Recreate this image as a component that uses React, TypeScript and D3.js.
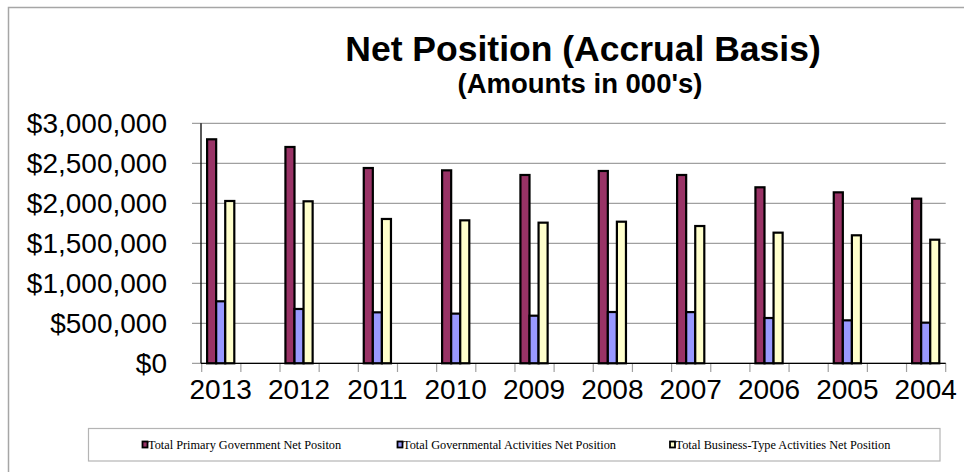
import React from "react";
import * as d3 from "d3";

const years = ["2013", "2012", "2011", "2010", "2009", "2008", "2007", "2006", "2005", "2004"];
const primary = [2800000, 2704000, 2441000, 2412000, 2354000, 2404000, 2354000, 2200000, 2137000, 2058000];
const governmental = [775000, 679000, 637000, 621000, 595000, 641000, 640000, 566000, 537000, 508000];
const business = [2029000, 2025000, 1804000, 1787000, 1758000, 1770000, 1716000, 1633000, 1600000, 1545000];
const seriesNames = [
  "Total Primary Government Net Positon",
  "Total Governmental Activities Net Position",
  "Total Business-Type Activities Net Position",
];
const seriesColors = ["#993366", "#9999FF", "#FFFFCC"];
const yTicks = [0, 500000, 1000000, 1500000, 2000000, 2500000, 3000000];

const W = 964;
const H = 472;

export default function App() {
  const series = [primary, governmental, business];
  const y = d3.scaleLinear().domain([0, 3000000]).range([363.3, 123.3]);
  const xCenter = d3.scalePoint<string>().domain(years).range([220.7, 925.7]);
  const inner = d3.scaleBand<number>().domain([0, 1, 2]).range([-13.6, 13.6]).padding(0);
  const tickX = d3.range(20).map((i) => 201.7 + i * ((945.7 - 201.7) / 19));
  const fmt = (v: number) => "$" + d3.format(",")(v);
  const legendX = [141.5, 396.5, 669];

  return (
    <div style={{ position: "fixed", left: 0, top: 0, width: W, height: H, background: "#fff" }}>
      <svg width={W} height={H} style={{ display: "block" }}>
        <rect x={0} y={0} width={W} height={H} fill="#fff" />
        {/* outer frame */}
        <path d={`M8.5,${H} V7.5 H${W}`} fill="none" stroke="#a6a6a6" strokeWidth={1.5} />
        {/* title */}
        <text x={583} y={61} textAnchor="middle" fontFamily="'Liberation Sans', Arial, sans-serif" fontWeight="bold" fontSize={35.5} fill="#000">
          Net Position (Accrual Basis)
        </text>
        <text x={580} y={93.3} textAnchor="middle" fontFamily="'Liberation Sans', Arial, sans-serif" fontWeight="bold" fontSize={27.5} fill="#000">
          (Amounts in 000's)
        </text>
        {/* gridlines */}
        {yTicks.map((t) => (
          <line key={t} x1={192} x2={945.7} y1={y(t)} y2={y(t)} stroke="#a0a0a0" strokeWidth={1.2} />
        ))}
        {/* y labels */}
        {yTicks.map((t) => (
          <text key={"l" + t} x={167} y={y(t)} dy="0.35em" textAnchor="end" fontFamily="'Liberation Sans', Arial, sans-serif" fontSize={28} fill="#000">
            {fmt(t)}
          </text>
        ))}
        {/* x ticks */}
        {tickX.map((tx, i) => (
          <line key={"t" + i} x1={tx} x2={tx} y1={363.3} y2={372} stroke="#a0a0a0" strokeWidth={1.2} />
        ))}
        {/* bars */}
        {years.map((yr, i) => (
          <g key={yr}>
            {series.map((s, k) => (
              <rect
                key={k}
                x={(xCenter(yr) as number) + (inner(k) as number)}
                y={y(s[i])}
                width={inner.bandwidth()}
                height={y(0) - y(s[i])}
                fill={seriesColors[k]}
                stroke="#000"
                strokeWidth={2.2}
              />
            ))}
          </g>
        ))}
        {/* axes */}
        <line x1={201} x2={201} y1={123.3} y2={363.3} stroke="#000" strokeWidth={1.3} />
        <line x1={201} x2={945.7} y1={363.3} y2={363.3} stroke="#000" strokeWidth={1.3} />
        {/* x labels */}
        {years.map((yr) => (
          <text key={"x" + yr} x={xCenter(yr) as number} y={398.5} textAnchor="middle" fontFamily="'Liberation Sans', Arial, sans-serif" fontSize={28} fill="#000">
            {yr}
          </text>
        ))}
        {/* legend */}
        <rect x={88.5} y={428.5} width={851.5} height={32.5} fill="#fff" stroke="#b4b4b4" strokeWidth={1.2} />
        {seriesNames.map((n, k) => (
          <g key={n}>
            <rect x={legendX[k] + 1} y={441.5} width={5} height={6} fill={seriesColors[k]} stroke="#000" strokeWidth={1.8} />
            <text x={legendX[k] + 6.5} y={449} fontFamily="'Liberation Serif', 'Times New Roman', serif" fontSize={12.3} fill="#000">
              {n}
            </text>
          </g>
        ))}
      </svg>
    </div>
  );
}
